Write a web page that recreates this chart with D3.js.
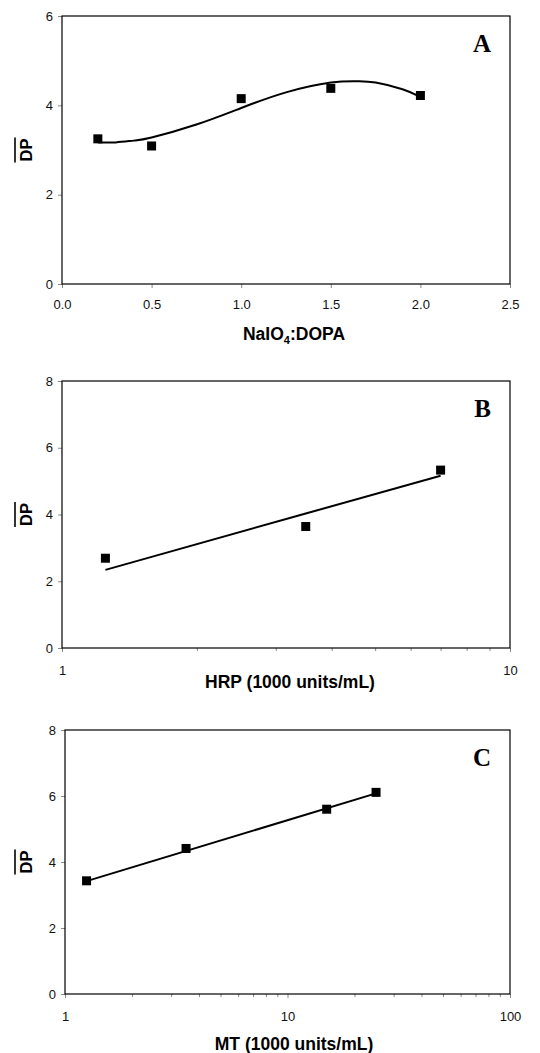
<!DOCTYPE html>
<html>
<head>
<meta charset="utf-8">
<script src="https://cdn.jsdelivr.net/npm/d3@7"></script>
<style>
  body { margin: 0; background: #fff; }
  svg { display: block; font-family: "Liberation Sans", Arial, sans-serif; }
</style>
</head>
<body>
<div id="chart"></div>
<script>
// Panel A: NaIO4:DOPA ratio
var aX = [0.2, 0.5, 1.0, 1.5, 2.0];
var aY = [3.25, 3.09, 4.15, 4.38, 4.22];
// polynomial trend line
var aFitX = [0.2, 0.3, 0.4, 0.5, 0.75, 1.0, 1.25, 1.5, 1.65, 1.75, 1.9, 2.0];
var aFitY = [3.17, 3.17, 3.21, 3.28, 3.57, 3.94, 4.29, 4.51, 4.54, 4.51, 4.36, 4.19];
var aXTicks = [0, 0.5, 1.0, 1.5, 2.0, 2.5];
var aYTicks = [0, 2, 4, 6];

// Panel B: HRP
var bX = [1.25, 3.5, 7];
var bY = [2.69, 3.64, 5.33];
var bFitX = [1.25, 3.5, 7];
var bFitY = [2.34, 4.03, 5.16];
var bXTicks = [1, 10];
var bXMinor = [2, 3, 4, 5, 6, 7, 8, 9];
var bYTicks = [0, 2, 4, 6, 8];

// Panel C: MT
var cX = [1.25, 3.5, 15, 25];
var cY = [3.43, 4.41, 5.60, 6.11];
var cFitX = [1.25, 25];
var cFitY = [3.42, 6.08];
var cXTicks = [1, 10, 100];
var cXMinor = [2, 3, 4, 5, 6, 7, 8, 9, 20, 30, 40, 50, 60, 70, 80, 90];
var cYTicks = [0, 2, 4, 6, 8];

var svg = d3.select("#chart").append("svg")
  .attr("width", 540)
  .attr("height", 1053);

var panels = [
  { letter: "A", x: aX, y: aY, fx: aFitX, fy: aFitY, log: false,
    xDomain: [0, 2.5], yDomain: [0, 6], xTicks: aXTicks, xMinor: [], yTicks: aYTicks,
    fmt: d3.format(".1f"), title: "NaIO4:DOPA",
    left: 62, right: 510, top: 16, bottom: 284, xPad: 12, titleX: 294, titleY: 340 },
  { letter: "B", x: bX, y: bY, fx: bFitX, fy: bFitY, log: true,
    xDomain: [1, 10], yDomain: [0, 8], xTicks: bXTicks, xMinor: bXMinor, yTicks: bYTicks,
    fmt: d3.format("d"), title: "HRP (1000 units/mL)",
    left: 62, right: 510, top: 381, bottom: 648, xPad: 14, titleX: 290, titleY: 688 },
  { letter: "C", x: cX, y: cY, fx: cFitX, fy: cFitY, log: true,
    xDomain: [1, 100], yDomain: [0, 8], xTicks: cXTicks, xMinor: cXMinor, yTicks: cYTicks,
    fmt: d3.format("d"), title: "MT (1000 units/mL)",
    left: 65, right: 510, top: 730, bottom: 994, xPad: 14, titleX: 294, titleY: 1050 }
];

panels.forEach(function (p) {
  var x = (p.log ? d3.scaleLog() : d3.scaleLinear())
    .domain(p.xDomain)
    .range([p.left, p.right]);
  var y = d3.scaleLinear()
    .domain(p.yDomain)
    .range([p.bottom, p.top]);

  var g = svg.append("g");

  // minor ticks on log axes
  if (p.xMinor.length) {
    g.append("g")
      .attr("transform", `translate(0, ${p.bottom})`)
      .call(d3.axisBottom(x).tickValues(p.xMinor).tickSize(3).tickFormat(""))
      .call(a => a.select(".domain").remove())
      .call(a => a.selectAll("line").attr("stroke", "#888"));
  }

  g.append("g")
    .attr("transform", `translate(0, ${p.bottom})`)
    .call(d3.axisBottom(x).tickValues(p.xTicks).tickSize(4).tickPadding(p.xPad).tickFormat(p.fmt))
    .call(a => a.select(".domain").remove())
    .call(a => a.selectAll("line").attr("stroke", "#888"))
    .call(a => a.selectAll("text").attr("font-size", 13).attr("fill", "#111")
      .attr("font-family", "Liberation Sans, Arial, sans-serif"));

  g.append("g")
    .attr("transform", `translate(${p.left}, 0)`)
    .call(d3.axisLeft(y).tickValues(p.yTicks).tickSize(4).tickPadding(5).tickFormat(d3.format("d")))
    .call(a => a.select(".domain").remove())
    .call(a => a.selectAll("line").attr("stroke", "#888"))
    .call(a => a.selectAll("text").attr("font-size", 13).attr("fill", "#111")
      .attr("font-family", "Liberation Sans, Arial, sans-serif"));

  // plot frame
  g.append("rect")
    .attr("x", p.left)
    .attr("y", p.top)
    .attr("width", p.right - p.left)
    .attr("height", p.bottom - p.top)
    .attr("fill", "none")
    .attr("stroke", "#000")
    .attr("stroke-width", 1.2);

  // trend line
  var fit = p.fx.map((v, i) => [v, p.fy[i]]);
  g.append("path")
    .datum(fit)
    .attr("fill", "none")
    .attr("stroke", "#000")
    .attr("stroke-width", 2)
    .attr("d", d3.line()
      .x(d => x(d[0]))
      .y(d => y(d[1]))
      .curve(p.log ? d3.curveLinear : d3.curveNatural));

  // data squares
  var pts = p.x.map((v, i) => [v, p.y[i]]);
  g.selectAll("rect.pt")
    .data(pts)
    .enter()
    .append("rect")
    .attr("class", "pt")
    .attr("x", d => x(d[0]) - 4.5)
    .attr("y", d => y(d[1]) - 4.5)
    .attr("width", 9)
    .attr("height", 9)
    .attr("fill", "#000");

  // panel letter
  g.append("text")
    .attr("x", 491)
    .attr("y", p.top + 36)
    .attr("text-anchor", "end")
    .attr("font-family", "Liberation Serif, Times New Roman, serif")
    .attr("font-weight", "bold")
    .attr("font-size", 25)
    .text(p.letter);

  // x axis title
  var t = g.append("text")
    .attr("x", p.titleX)
    .attr("y", p.titleY)
    .attr("text-anchor", "middle")
    .attr("font-weight", "bold")
    .attr("font-size", 17.5);
  if (p.letter === "A") {
    t.append("tspan").text("NaIO");
    t.append("tspan").attr("font-size", 11).attr("dy", 4).text("4");
    t.append("tspan").attr("dy", -4).text(":DOPA");
  } else {
    t.text(p.title);
  }

  // y axis title: DP with a bar over it
  var cy = (p.top + p.bottom) / 2;
  var yl = g.append("g")
    .attr("transform", `translate(32, ${cy}) rotate(-90)`);
  var dp = yl.append("text")
    .attr("text-anchor", "middle")
    .attr("font-weight", "bold")
    .attr("font-size", 16.5)
    .text("DP");
  var w = dp.node().getComputedTextLength();
  yl.append("line")
    .attr("x1", -w / 2 - 1)
    .attr("x2", w / 2 + 1)
    .attr("y1", -17)
    .attr("y2", -17)
    .attr("stroke", "#000")
    .attr("stroke-width", 1.6);
});
</script>
</body>
</html>
